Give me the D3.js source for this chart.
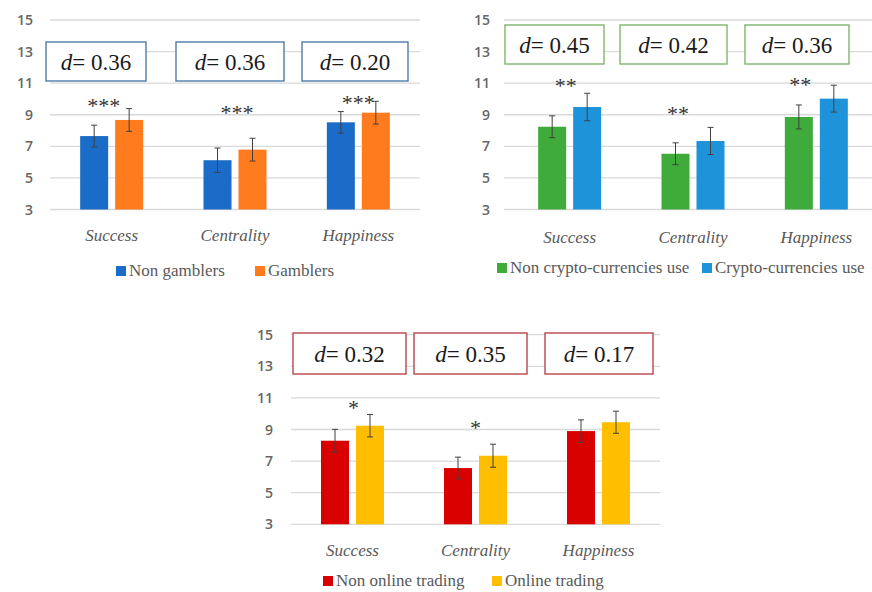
<!DOCTYPE html>
<html>
<head>
<meta charset="utf-8">
<script src="https://cdn.jsdelivr.net/npm/d3@7"></script>
<style>
  html, body { margin: 0; padding: 0; background: #fff; }
  svg { display: block; }
</style>
</head>
<body>
<svg id="chart" width="872" height="592"></svg>
<script>
// ---- shared axes ----
const categories = ["Success", "Centrality", "Happiness"];
const yTicks = [3, 5, 7, 9, 11, 13, 15];

// ---- gambling ----
const gamblingGroups = ["Non gamblers", "Gamblers"];
const nonGamblersMean = [7.65, 6.12, 8.52];
const nonGamblersErr = [0.69, 0.77, 0.68];
const gamblersMean = [8.67, 6.79, 9.13];
const gamblersErr = [0.72, 0.72, 0.72];
const gamblingEffect = ["0.36", "0.36", "0.20"];
const gamblingStars = ["***", "***", "***"];

// ---- crypto-currencies ----
const cryptoGroups = ["Non crypto-currencies use", "Crypto-currencies use"];
const nonCryptoMean = [8.24, 6.53, 8.86];
const nonCryptoErr = [0.69, 0.69, 0.76];
const cryptoMean = [9.49, 7.34, 10.02];
const cryptoErr = [0.87, 0.86, 0.85];
const cryptoEffect = ["0.45", "0.42", "0.36"];
const cryptoStars = ["**", "**", "**"];

// ---- online trading ----
const tradingGroups = ["Non online trading", "Online trading"];
const nonTradingMean = [8.29, 6.56, 8.90];
const nonTradingErr = [0.72, 0.69, 0.71];
const tradingMean = [9.24, 7.34, 9.46];
const tradingErr = [0.71, 0.73, 0.70];
const tradingEffect = ["0.32", "0.35", "0.17"];
const tradingStars = ["*", "*", ""];

// ---- panel layout ----
const panels = [
  {
    groups: gamblingGroups,
    means: [nonGamblersMean, gamblersMean],
    errs: [nonGamblersErr, gamblersErr],
    effect: gamblingEffect, stars: gamblingStars,
    colors: ["#1b6bc8", "#ff7b1e"], boxColor: "#4f7ca8",
    xRange: [50, 420], yRange: [209.5, 20], grid: [50, 420], tickX: 33,
    catY: 235, legendY: 270, legendX: [116, 255],
    boxes: [[46, 146], [176, 284], [302, 408]], boxY: [42, 81],
    starDx: [-8, 2, 0], starY: [103, 110, 100]
  },
  {
    groups: cryptoGroups,
    means: [nonCryptoMean, cryptoMean],
    errs: [nonCryptoErr, cryptoErr],
    effect: cryptoEffect, stars: cryptoStars,
    colors: ["#3fab3a", "#1e93da"], boxColor: "#7fb66a",
    xRange: [508, 878], yRange: [209.5, 20], grid: [504, 872], tickX: 490,
    catY: 237, legendY: 267, legendX: [497, 702],
    boxes: [[505, 604], [620, 727], [745, 849]], boxY: [25, 64],
    starDx: [-4, -15, -16], starY: [83, 111, 82]
  },
  {
    groups: tradingGroups,
    means: [nonTradingMean, tradingMean],
    errs: [nonTradingErr, tradingErr],
    effect: tradingEffect, stars: tradingStars,
    colors: ["#d90000", "#ffbf00"], boxColor: "#b8474a",
    xRange: [291, 660], yRange: [524.3, 334.7], grid: [291, 660], tickX: 273,
    catY: 550, legendY: 580, legendX: [323, 492],
    boxes: [[293, 406], [414, 527], [545, 653]], boxY: [333, 374],
    starDx: [1, 0, 0], starY: [405, 425, 0]
  }
];

const svg = d3.select("#chart");
svg.append("rect").attr("width", 872).attr("height", 592).attr("fill", "#fff");

const serif = "'Liberation Serif', 'Times New Roman', serif";
const sans = "'Open Sans', 'DejaVu Sans', sans-serif";
const textGray = "#595959";

const BAR_W = 28, BAR_GAP = 7;

panels.forEach(p => {
  const g = svg.append("g");
  const x = d3.scaleBand().domain(categories).range(p.xRange).paddingInner(0).paddingOuter(0);
  const y = d3.scaleLinear().domain([3, 15]).range(p.yRange);
  const center = c => x(c) + x.bandwidth() / 2;

  // horizontal gridlines
  g.append("g").selectAll("line").data(yTicks).join("line")
    .attr("x1", p.grid[0]).attr("x2", p.grid[1])
    .attr("y1", d => y(d)).attr("y2", d => y(d))
    .attr("stroke", "#d9d9d9").attr("stroke-width", 1.3);

  // y tick labels
  g.append("g").selectAll("text").data(yTicks).join("text")
    .attr("x", p.tickX).attr("y", d => y(d))
    .attr("dy", "0.36em").attr("text-anchor", "end")
    .attr("font-family", sans).attr("font-size", 14).attr("font-weight", 600)
    .attr("fill", "#666").text(d => d);

  // bars and error bars
  p.means.forEach((vals, si) => {
    const offset = si === 0 ? -(BAR_W + BAR_GAP / 2) : BAR_GAP / 2;
    const rows = categories.map((c, i) => ({ c, v: vals[i], e: p.errs[si][i] }));
    g.append("g").selectAll("rect").data(rows).join("rect")
      .attr("x", d => center(d.c) + offset)
      .attr("width", BAR_W)
      .attr("y", d => y(d.v))
      .attr("height", d => y(3) - y(d.v))
      .attr("fill", p.colors[si]);

    const eb = g.append("g").attr("stroke", "#404040").attr("stroke-width", 1);
    rows.forEach(d => {
      const cx = center(d.c) + offset + BAR_W / 2;
      eb.append("line").attr("x1", cx).attr("x2", cx)
        .attr("y1", y(d.v + d.e)).attr("y2", y(d.v - d.e));
      [d.v + d.e, d.v - d.e].forEach(t => {
        eb.append("line").attr("x1", cx - 3).attr("x2", cx + 3)
          .attr("y1", y(t)).attr("y2", y(t));
      });
    });
  });

  // significance stars
  categories.forEach((c, i) => {
    if (!p.stars[i]) return;
    g.append("text")
      .attr("x", center(c) + p.starDx[i]).attr("y", p.starY[i] + 10)
      .attr("text-anchor", "middle")
      .attr("font-family", serif).attr("font-size", 22)
      .attr("fill", "#333").text(p.stars[i]);
  });

  // effect size boxes
  p.boxes.forEach((b, i) => {
    g.append("rect")
      .attr("x", b[0]).attr("y", p.boxY[0])
      .attr("width", b[1] - b[0]).attr("height", p.boxY[1] - p.boxY[0])
      .attr("fill", "#fff").attr("stroke", p.boxColor).attr("stroke-width", 1.4);
    const t = g.append("text")
      .attr("x", (b[0] + b[1]) / 2).attr("y", (p.boxY[0] + p.boxY[1]) / 2)
      .attr("dy", "0.35em").attr("text-anchor", "middle")
      .attr("font-family", serif).attr("font-size", 23).attr("fill", "#1a1a1a");
    t.append("tspan").attr("font-style", "italic").text("d");
    t.append("tspan").text("= " + p.effect[i]);
  });

  // category labels
  g.append("g").selectAll("text").data(categories).join("text")
    .attr("x", d => center(d)).attr("y", p.catY).attr("dy", "0.35em")
    .attr("text-anchor", "middle").attr("font-family", serif)
    .attr("font-style", "italic").attr("font-size", 17)
    .attr("fill", textGray).text(d => d);

  // legend
  p.groups.forEach((name, si) => {
    const lx = p.legendX[si];
    g.append("rect").attr("x", lx).attr("y", p.legendY - 4)
      .attr("width", 10).attr("height", 10).attr("fill", p.colors[si]);
    g.append("text").attr("x", lx + 13).attr("y", p.legendY).attr("dy", "0.35em")
      .attr("font-family", serif).attr("font-size", 17)
      .attr("fill", textGray).text(name);
  });
});
</script>
</body>
</html>
